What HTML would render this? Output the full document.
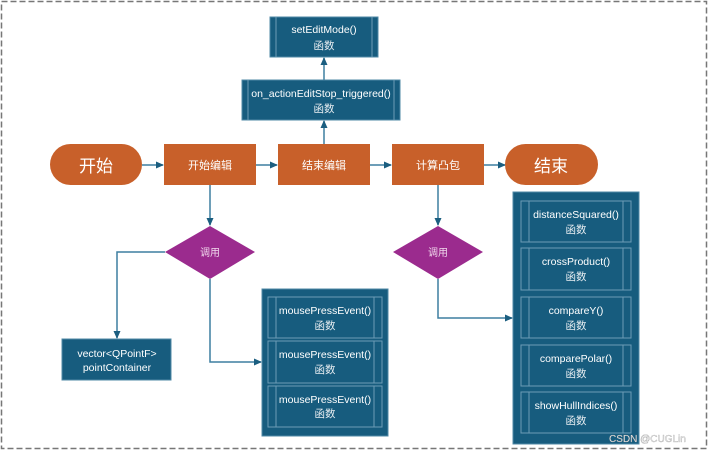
<!DOCTYPE html>
<html><head><meta charset="utf-8"><style>
html,body{margin:0;padding:0;background:#fff;}
svg{display:block;font-family:"Liberation Sans","Noto Sans CJK SC",sans-serif;}
</style></head><body>
<svg width="709" height="451" viewBox="0 0 709 451" xmlns="http://www.w3.org/2000/svg">
<defs>
<marker id="a" markerWidth="8" markerHeight="8" refX="7" refY="4" orient="auto" markerUnits="userSpaceOnUse">
<path d="M0,0.5 L8,4 L0,7.5 Z" fill="#1b5e80"/></marker>
</defs>
<rect x="1.5" y="1.5" width="705" height="447" fill="none" stroke="#777" stroke-width="1.5" stroke-dasharray="6,3"/>
<g stroke="#3d7fa0" stroke-width="1.5" fill="none">
<line x1="142" y1="165" x2="163" y2="165" marker-end="url(#a)"/>
<line x1="256" y1="165" x2="277" y2="165" marker-end="url(#a)"/>
<line x1="370" y1="165" x2="391" y2="165" marker-end="url(#a)"/>
<line x1="484" y1="165" x2="505" y2="165" marker-end="url(#a)"/>
<line x1="324" y1="144" x2="324" y2="121" marker-end="url(#a)"/>
<line x1="324" y1="80" x2="324" y2="58" marker-end="url(#a)"/>
<line x1="210" y1="185" x2="210" y2="225" marker-end="url(#a)"/>
<polyline points="165,252 117,252 117,338" marker-end="url(#a)"/>
<polyline points="210,279 210,362 261,362" marker-end="url(#a)"/>
<line x1="438" y1="185" x2="438" y2="225" marker-end="url(#a)"/>
<polyline points="438,279 438,318 512,318" marker-end="url(#a)"/>
</g>
<rect x="270" y="17" width="108" height="40" fill="#175c7e" stroke="#4f88a6"/>
<line x1="276" y1="17" x2="276" y2="57" stroke="#6c9cb6"/><line x1="372" y1="17" x2="372" y2="57" stroke="#6c9cb6"/>
<text x="324" y="33" fill="#fff" font-size="10.5" text-anchor="middle">setEditMode()</text>
<text x="324" y="49" fill="#e8eef2" font-size="10.5" text-anchor="middle">函数</text>
<rect x="242" y="80" width="158" height="40" fill="#175c7e" stroke="#4f88a6"/>
<line x1="248" y1="80" x2="248" y2="120" stroke="#6c9cb6"/><line x1="394" y1="80" x2="394" y2="120" stroke="#6c9cb6"/>
<text x="321" y="97" fill="#fff" font-size="10.5" text-anchor="middle">on_actionEditStop_triggered()</text>
<text x="324" y="112" fill="#e8eef2" font-size="10.5" text-anchor="middle">函数</text>
<rect x="50" y="144" width="92" height="41" rx="20.5" fill="#c8602a"/>
<text x="96" y="172" fill="#fff" font-size="17" text-anchor="middle">开始</text>
<rect x="164" y="144" width="92" height="41" fill="#c8602a"/>
<text x="210" y="169" fill="#fff" font-size="11" text-anchor="middle">开始编辑</text>
<rect x="278" y="144" width="92" height="41" fill="#c8602a"/>
<text x="324" y="169" fill="#fff" font-size="11" text-anchor="middle">结束编辑</text>
<rect x="392" y="144" width="92" height="41" fill="#c8602a"/>
<text x="438" y="169" fill="#fff" font-size="11" text-anchor="middle">计算凸包</text>
<rect x="505" y="144" width="93" height="41" rx="20.5" fill="#c8602a"/>
<text x="551" y="172" fill="#fff" font-size="17" text-anchor="middle">结束</text>
<polygon points="210,226 255,252 210,279 165,252" fill="#9b2b8e"/>
<text x="210" y="256" fill="#f0d8ec" font-size="10" text-anchor="middle">调用</text>
<polygon points="438,226 483,252 438,279 393,252" fill="#9b2b8e"/>
<text x="438" y="256" fill="#f0d8ec" font-size="10" text-anchor="middle">调用</text>
<rect x="62" y="339" width="109" height="41" fill="#175c7e" stroke="#4f88a6"/>
<text x="117" y="357" fill="#fff" font-size="10.5" text-anchor="middle">vector&lt;QPointF&gt;</text>
<text x="117" y="371" fill="#fff" font-size="10.5" text-anchor="middle">pointContainer</text>
<rect x="262" y="289" width="126" height="147" fill="#175c7e" stroke="#4f88a6"/>
<g stroke="#6c9cb6" fill="none">
<rect x="268" y="297" width="114" height="41"/><line x1="276" y1="297" x2="276" y2="338"/><line x1="374" y1="297" x2="374" y2="338"/>
<rect x="268" y="341" width="114" height="42"/><line x1="276" y1="341" x2="276" y2="383"/><line x1="374" y1="341" x2="374" y2="383"/>
<rect x="268" y="386" width="114" height="41"/><line x1="276" y1="386" x2="276" y2="427"/><line x1="374" y1="386" x2="374" y2="427"/>
</g>
<g fill="#fff" font-size="10.5" text-anchor="middle">
<text x="325" y="314">mousePressEvent()</text><text x="325" y="329" fill="#e8eef2">函数</text>
<text x="325" y="358">mousePressEvent()</text><text x="325" y="373" fill="#e8eef2">函数</text>
<text x="325" y="403">mousePressEvent()</text><text x="325" y="417" fill="#e8eef2">函数</text>
</g>
<rect x="513" y="192" width="126" height="252" fill="#175c7e" stroke="#4f88a6"/>
<g stroke="#6c9cb6" fill="none">
<rect x="521" y="201" width="110" height="41"/><line x1="529" y1="201" x2="529" y2="242"/><line x1="623" y1="201" x2="623" y2="242"/>
<rect x="521" y="248" width="110" height="42"/><line x1="529" y1="248" x2="529" y2="290"/><line x1="623" y1="248" x2="623" y2="290"/>
<rect x="521" y="297" width="110" height="41"/><line x1="529" y1="297" x2="529" y2="338"/><line x1="623" y1="297" x2="623" y2="338"/>
<rect x="521" y="345" width="110" height="41"/><line x1="529" y1="345" x2="529" y2="386"/><line x1="623" y1="345" x2="623" y2="386"/>
<rect x="521" y="392" width="110" height="41"/><line x1="529" y1="392" x2="529" y2="433"/><line x1="623" y1="392" x2="623" y2="433"/>
</g>
<g fill="#fff" font-size="10.5" text-anchor="middle">
<text x="576" y="218">distanceSquared()</text><text x="576" y="233" fill="#e8eef2">函数</text>
<text x="576" y="265">crossProduct()</text><text x="576" y="280" fill="#e8eef2">函数</text>
<text x="576" y="314">compareY()</text><text x="576" y="329" fill="#e8eef2">函数</text>
<text x="576" y="362">comparePolar()</text><text x="576" y="377" fill="#e8eef2">函数</text>
<text x="576" y="409">showHullIndices()</text><text x="576" y="424" fill="#e8eef2">函数</text>
</g>
<text x="609" y="442" fill="#f4f4f4" font-size="10" stroke="#999" stroke-width="0.3">CSDN @CUGLin</text>
</svg>
</body></html>
